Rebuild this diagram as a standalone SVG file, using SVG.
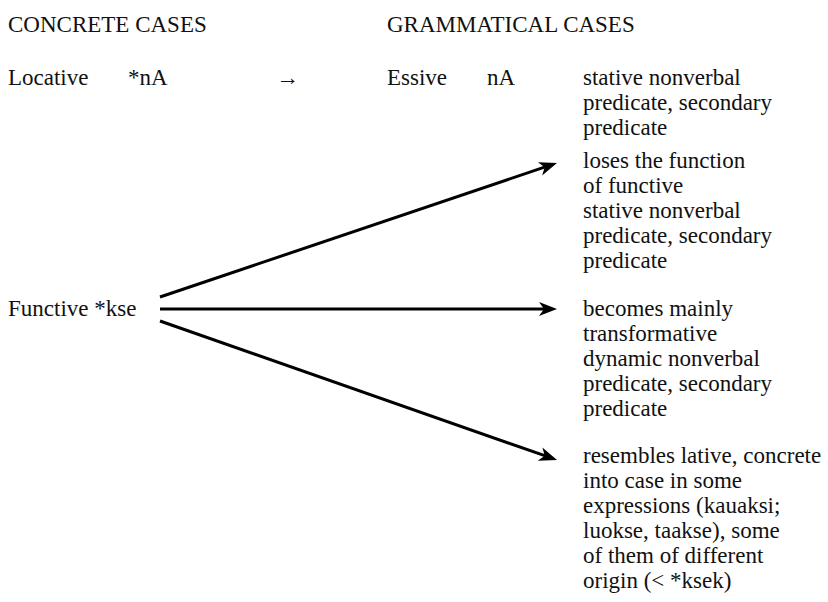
<svg xmlns="http://www.w3.org/2000/svg" width="828" height="602" viewBox="0 0 828 602">
<style>
.c{stroke:#000;stroke-width:3;fill:none}
</style>
<defs>
<marker id="ah" markerUnits="userSpaceOnUse" markerWidth="20" markerHeight="16" refX="8" refY="7" orient="auto">
<path d="M0,0 L18,7 L0,14 L5,7 z" fill="#000"/>
</marker>
</defs>
<rect width="828" height="602" fill="#fff"/>
<g id="headers">
<text x="8" y="32" font-family="Liberation Serif" font-size="23" fill="#111">CONCRETE CASES</text>
<text x="387" y="32" font-family="Liberation Serif" font-size="23" fill="#111">GRAMMATICAL CASES</text>
</g>
<g id="locative">
<text x="8" y="85" font-family="Liberation Serif" font-size="23" fill="#111">Locative</text>
<text x="128" y="85" font-family="Liberation Serif" font-size="23" fill="#111">*nA</text>
</g>
<g id="row-arrow"><text x="276" y="85" font-family="Liberation Serif" font-size="23" fill="#111">→</text></g>
<g id="essive">
<text x="387" y="85" font-family="Liberation Serif" font-size="23" fill="#111">Essive</text>
<text x="487" y="85" font-family="Liberation Serif" font-size="23" fill="#111">nA</text>
<text x="583" y="85" font-family="Liberation Serif" font-size="23" fill="#111">stative nonverbal</text>
<text x="583" y="110" font-family="Liberation Serif" font-size="23" fill="#111">predicate, secondary</text>
<text x="583" y="135" font-family="Liberation Serif" font-size="23" fill="#111">predicate</text>
</g>
<g id="functive"><text x="8" y="316" font-family="Liberation Serif" font-size="23" fill="#111">Functive *kse</text></g>
<g id="out1">
<text x="583" y="168" font-family="Liberation Serif" font-size="23" fill="#111">loses the function</text>
<text x="583" y="193" font-family="Liberation Serif" font-size="23" fill="#111">of functive</text>
<text x="583" y="218" font-family="Liberation Serif" font-size="23" fill="#111">stative nonverbal</text>
<text x="583" y="243" font-family="Liberation Serif" font-size="23" fill="#111">predicate, secondary</text>
<text x="583" y="268" font-family="Liberation Serif" font-size="23" fill="#111">predicate</text>
</g>
<g id="out2">
<text x="583" y="316" font-family="Liberation Serif" font-size="23" fill="#111">becomes mainly</text>
<text x="583" y="341" font-family="Liberation Serif" font-size="23" fill="#111">transformative</text>
<text x="583" y="366" font-family="Liberation Serif" font-size="23" fill="#111">dynamic nonverbal</text>
<text x="583" y="391" font-family="Liberation Serif" font-size="23" fill="#111">predicate, secondary</text>
<text x="583" y="416" font-family="Liberation Serif" font-size="23" fill="#111">predicate</text>
</g>
<g id="out3">
<text x="583" y="463" font-family="Liberation Serif" font-size="23" fill="#111">resembles lative, concrete</text>
<text x="583" y="488" font-family="Liberation Serif" font-size="23" fill="#111">into case in some</text>
<text x="583" y="513" font-family="Liberation Serif" font-size="23" fill="#111">expressions (kauaksi;</text>
<text x="583" y="538" font-family="Liberation Serif" font-size="23" fill="#111">luokse, taakse), some</text>
<text x="583" y="563" font-family="Liberation Serif" font-size="23" fill="#111">of them of different</text>
<text x="583" y="588" font-family="Liberation Serif" font-size="23" fill="#111">origin (&lt; *ksek)</text>
</g>
<g id="connectors">
<line class="c" x1="160" y1="297" x2="547.5" y2="166.2" marker-end="url(#ah)"/>
<line class="c" x1="160" y1="309" x2="547" y2="309" marker-end="url(#ah)"/>
<line class="c" x1="160" y1="321" x2="547.6" y2="456.7" marker-end="url(#ah)"/>
</g>
</svg>
